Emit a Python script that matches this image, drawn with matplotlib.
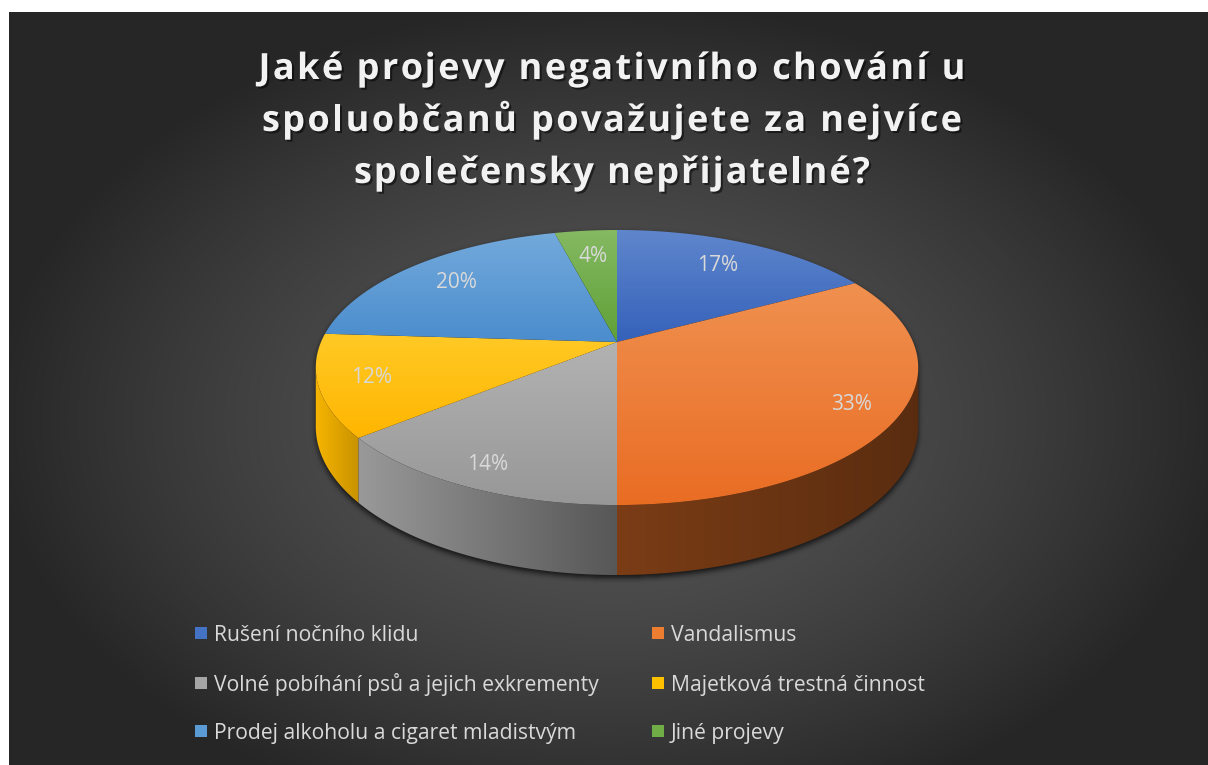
import numpy as np
import matplotlib
matplotlib.use('Agg')
import matplotlib.pyplot as plt
from matplotlib.patches import Polygon, Rectangle
from matplotlib.path import Path
from matplotlib.font_manager import FontProperties
import matplotlib.patheffects as pe
from matplotlib.colors import to_rgb

# ---------------- data ----------------
title_lines = ["Jaké projevy negativního chování u",
               "spoluobčanů považujete za nejvíce",
               "společensky nepřijatelné?"]
categories = ["Rušení nočního klidu", "Vandalismus",
              "Volné pobíhání psů a jejich exkrementy", "Majetková trestná činnost",
              "Prodej alkoholu a cigaret mladistvým", "Jiné projevy"]
values = [17, 33, 14, 12, 20, 4]
colors = ["#4472C4", "#ED7D31", "#A5A5A5", "#FFC000", "#5B9BD5", "#70AD47"]

# ---------------- figure ----------------
W, H = 1208, 765
fig = plt.figure(figsize=(W / 100, H / 100), dpi=100)
ax = fig.add_axes([0, 0, 1, 1])
ax.set_xlim(0, W)
ax.set_ylim(H, 0)
ax.axis('off')

# pie geometry (simple perspective projection)
CX, CY = 617, 342
A, B, K = 296, 132.8, 0.1855
D = 57


def proj(theta_deg, r=1.0, z=0.0):
    t = np.radians(theta_deg)
    u = r * np.cos(t)
    v = r * np.sin(t)
    s = 1 + K * v
    return CX + A * u / s, CY - B * v / s + z / s


# ---------------- background with shadow ----------------
yy, xx = np.mgrid[0:H, 0:W] + 0.5
rr = np.sqrt(((xx - 610) / 620) ** 2 + ((yy - 420) / 420) ** 2)
rr = np.clip(rr, 0, 1)
g = (87 - 49 * rr ** 1.5) / 255.0
bg = np.dstack([g, g, g])

a_sil = np.degrees(np.arcsin(K))
th_back = np.linspace(-a_sil, 180 + a_sil, 300)
th_front = np.linspace(180 + a_sil, 360 - a_sil, 300)
xs1, ys1 = proj(th_back)
xs2, ys2 = proj(th_front, z=D)
sil = np.column_stack([np.r_[xs1, xs2], np.r_[ys1, ys2]])
mask = Path(sil).contains_points(
    np.column_stack([xx.ravel(), yy.ravel() - 3])).reshape(H, W).astype(float)
kern = np.exp(-0.5 * (np.arange(-10, 11) / 3.0) ** 2)
kern /= kern.sum()
m = np.apply_along_axis(lambda r_: np.convolve(r_, kern, mode='same'), 1, mask)
m = np.apply_along_axis(lambda r_: np.convolve(r_, kern, mode='same'), 0, m)
bg = bg * (1 - 0.75 * m[..., None])
bg[:12, :] = 1.0
bg[:, :9] = 1.0
ax.imshow(bg, extent=(0, W, H, 0), zorder=0, interpolation='bilinear')

# ---------------- slices ----------------
total = float(sum(values))
cum = np.cumsum([0] + values) / total
starts = 90 - cum[:-1] * 360
ends = 90 - cum[1:] * 360


def Lfun(th):
    return np.interp(th, [-180, -140, -90, 0], [0.97, 0.97, 0.52, 0.52])


def Rfun(th):
    return np.interp(th, [-180, -140, -90, 0], [0.80, 0.78, 0.55, 0.36])


# sides (horizontal gradient clipped to each side face)
for i in range(len(values)):
    hi = min(starts[i], -a_sil)
    lo = max(ends[i], -180 + a_sil)
    if hi <= lo:
        continue
    base = np.array(to_rgb(colors[i])) ** 1.1
    ths = np.linspace(lo, hi, int((hi - lo) * 2) + 2)
    tx, ty = proj(ths)
    bx, by = proj(ths[::-1], z=D)
    verts = np.column_stack([np.r_[tx, bx], np.r_[ty, by]])
    poly = Polygon(verts, closed=True, facecolor='none', edgecolor='none', zorder=2)
    ax.add_patch(poly)
    L, R = Lfun(lo), Rfun(hi)
    n = 128
    tt = np.linspace(0, 1, n)[None, :, None]
    grad = np.clip(base[None, None, :] * (L + (R - L) * tt), 0, 1)
    xmin, xmax = verts[:, 0].min(), verts[:, 0].max()
    ymin, ymax = verts[:, 1].min(), verts[:, 1].max()
    im = ax.imshow(grad, extent=(xmin - 1, xmax + 1, ymax + 1, ymin - 1),
                   aspect='auto', zorder=2, interpolation='bilinear')
    im.set_clip_path(poly)

# tops with vertical gradient
for i in range(len(values)):
    ths = np.linspace(starts[i], ends[i], max(int(abs(starts[i] - ends[i]) * 2), 4))
    px, py = proj(ths)
    verts = np.column_stack([np.r_[CX, px], np.r_[CY, py]])
    poly = Polygon(verts, closed=True, facecolor='none', edgecolor='none', zorder=3)
    ax.add_patch(poly)
    base = np.array(to_rgb(colors[i]))
    top_c = base + (1 - base) * 0.15
    bot_c = base ** 1.2
    n = 128
    tt = np.linspace(0, 1, n)[:, None]
    grad = (top_c[None, :] * (1 - tt) + bot_c[None, :] * tt)[:, None, :]
    ymin, ymax = verts[:, 1].min(), verts[:, 1].max()
    xmin, xmax = verts[:, 0].min(), verts[:, 0].max()
    im = ax.imshow(grad, extent=(xmin - 2, xmax + 2, ymax + 1, ymin - 1),
                   aspect='auto', zorder=3, interpolation='bilinear')
    im.set_clip_path(poly)

# data labels
for i in range(len(values)):
    mid = (starts[i] + ends[i]) / 2
    v = np.sin(np.radians(mid))
    f = 0.81 - 0.07 * v
    lx, ly = proj(mid, r=f)
    ax.text(lx, ly, f"{values[i]}%", ha='center', va='center', fontsize=15,
            family='Open Sans', color='#d9d9d9', zorder=5)

# ---------------- title (letter-spaced) ----------------
renderer = fig.canvas.get_renderer()
fp = FontProperties(family='Open Sans', weight='bold', size=26)


def tw(s):
    w, h, d = renderer.get_text_width_height_descent(s, fp, ismath=False)
    return w


title_targets = [707, 700, 516]
title_base = [79, 131, 183]
shadow = [pe.withSimplePatchShadow(offset=(1.5, -1.5), shadow_rgbFace='black', alpha=0.5)]
for line, wt, yb in zip(title_lines, title_targets, title_base):
    n = len(line)
    wl = tw('l')
    offs = [tw(line[:k] + 'l') - wl if k > 0 else 0.0 for k in range(n)]
    sp = (wt - tw(line)) / (n - 1)
    x0 = 612 - wt / 2
    for k, ch in enumerate(line):
        if ch == ' ':
            continue
        ax.text(x0 + offs[k] + sp * k, yb, ch, ha='left', va='baseline',
                fontproperties=fp, color='#f2f2f2', zorder=6, path_effects=shadow)

# ---------------- legend ----------------
leg_rows = [641, 691, 739]
leg_cols = [(195, 214), (652, 671)]
for i, cat in enumerate(categories):
    row, col = i // 2, i % 2
    mx, tx = leg_cols[col]
    yb = leg_rows[row]
    ax.add_patch(Rectangle((mx, yb - 14), 12, 12, facecolor=colors[i],
                           edgecolor='none', zorder=5))
    ax.text(tx, yb, cat, ha='left', va='baseline', fontsize=15.2, family='Open Sans',
            color='#d9d9d9', zorder=5)

fig.savefig('out.png', dpi=100)
